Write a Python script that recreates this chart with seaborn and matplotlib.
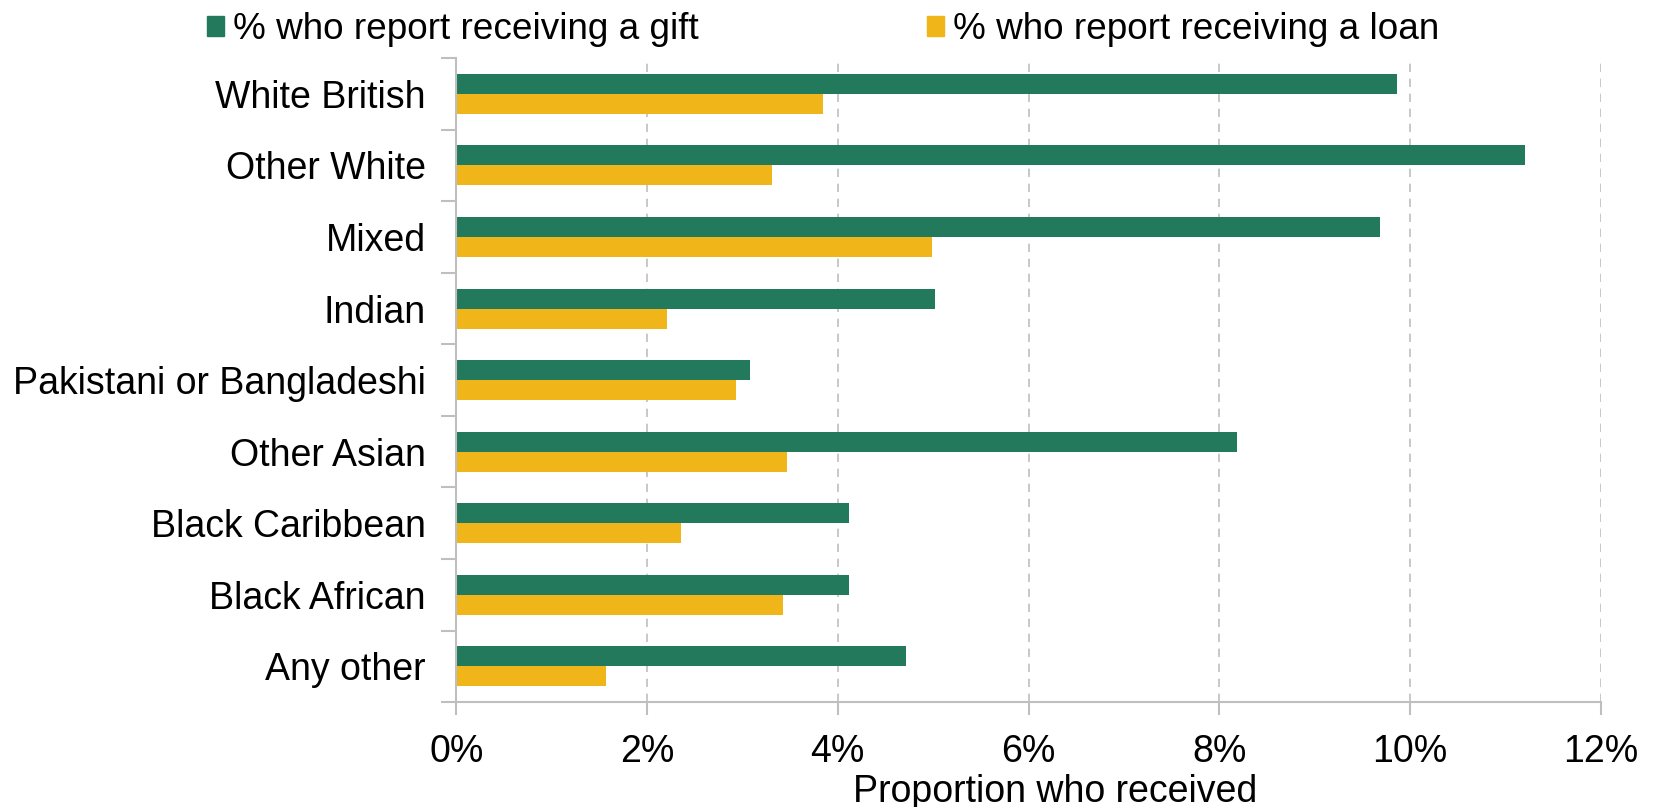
import pandas as pd
import seaborn as sns
import matplotlib.pyplot as plt
from matplotlib.ticker import FuncFormatter, FixedLocator

# values (percent)
groups = ["White British", "Other White", "Mixed", "Indian",
          "Pakistani or Bangladeshi", "Other Asian", "Black Caribbean",
          "Black African", "Any other"]
gift = [9.86, 11.2, 9.68, 5.02, 3.08, 8.18, 4.12, 4.12, 4.72]
loan = [3.85, 3.31, 4.99, 2.21, 2.93, 3.47, 2.36, 3.43, 1.57]
series = ["% who report receiving a gift", "% who report receiving a loan"]
colors = ["#23795b", "#f0b518"]
x_ticks = [0, 2, 4, 6, 8, 10, 12]

df = pd.DataFrame({
    "group": groups * 2,
    "value": gift + loan,
    "series": [series[0]] * len(groups) + [series[1]] * len(groups),
})

sns.set_style("white")
plt.rcParams["font.family"] = ["Liberation Sans", "DejaVu Sans"]
plt.rcParams["text.color"] = "black"
plt.rcParams["axes.labelcolor"] = "black"
plt.rcParams["xtick.color"] = "black"
plt.rcParams["ytick.color"] = "black"

fs = 27

fig = plt.figure(figsize=(16.53, 8.07), dpi=100)
ax = fig.add_axes([0.276, 0.130, 0.6925, 0.798])

sns.barplot(data=df, y="group", x="value", hue="series", order=groups,
            hue_order=series, palette=colors, width=0.56, saturation=1,
            orient="h", ax=ax, legend=False, linewidth=0)

ax.set_xlim(0, 12)
ax.set_ylim(len(groups) - 0.5, -0.5)
ax.xaxis.set_major_locator(FixedLocator(x_ticks))
ax.xaxis.set_major_formatter(FuncFormatter(lambda v, p: f"{v:.0f}%"))
ax.grid(axis="x", color="#bfbfbf", linestyle=(0, (5, 4)), linewidth=1.2)
ax.grid(axis="y", visible=False)
ax.set_axisbelow(True)

for side in ["top", "right"]:
    ax.spines[side].set_visible(False)
for side in ["left", "bottom"]:
    ax.spines[side].set_color("#bfbfbf")
    ax.spines[side].set_linewidth(1.5)

# category boundary ticks on the y axis
ax.yaxis.set_minor_locator(FixedLocator([i - 0.5 for i in range(len(groups) + 1)]))
ax.tick_params(axis="y", which="major", length=0, pad=22, labelsize=fs)
ax.tick_params(axis="y", which="minor", length=11, width=1.5, color="#bfbfbf", left=True)
ax.tick_params(axis="x", which="major", length=9, width=1.5, color="#bfbfbf",
               bottom=True, labelsize=fs, pad=14, labelcolor="black")

ax.set_ylabel("")
ax.set_xlabel("Proportion who received", fontsize=fs, labelpad=0)
ax.xaxis.set_label_coords(0.523, -0.112)

handles = [plt.Rectangle((0, 0), 1, 1, color=c) for c in colors]
fig.legend(handles, series, loc="upper left", bbox_to_anchor=(0.1165, 1.003),
           ncol=2, frameon=False, fontsize=26.6, handlelength=0.45,
           handleheight=0.45, handletextpad=0.25, columnspacing=6.18,
           borderaxespad=0)

fig.savefig("out.png", dpi=100)
